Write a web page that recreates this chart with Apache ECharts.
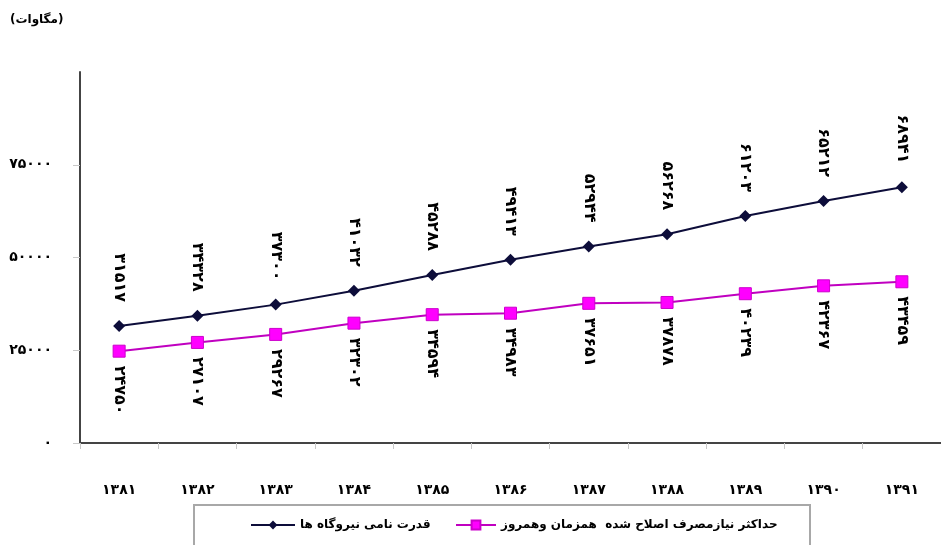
<!DOCTYPE html>
<html>
<head>
<meta charset="utf-8">
<script src="https://cdn.jsdelivr.net/npm/echarts@6/dist/echarts.min.js"></script>
<style>
  html, body { margin: 0; padding: 0; background: #fff; }
  #chart { width: 941px; height: 545px; }
</style>
</head>
<body>
<div id="chart"></div>
<script>
// Years (solar hijri calendar)
const years = ['۱۳۸۱', '۱۳۸۲', '۱۳۸۳', '۱۳۸۴', '۱۳۸۵', '۱۳۸۶', '۱۳۸۷', '۱۳۸۸', '۱۳۸۹', '۱۳۹۰', '۱۳۹۱'];

// Nominal capacity of power plants (MW)
const capacityName = 'قدرت نامی نیروگاه ها';
const capacity = [31517, 34328, 37300, 41032, 45288, 49413, 52944, 56268, 61203, 65212, 68941];

// Corrected simultaneous peak demand (MW)
const demandName = 'حداکثر نیازمصرف اصلاح شده  همزمان وهمروز';
const demand = [24750, 27107, 29267, 32302, 34594, 34983, 37651, 37878, 40239, 42367, 43459];

// Value axis ticks
const yTicks = [0, 25000, 50000, 75000, 100000];

const unitTitle = '(مگاوات)';

// Persian digits
const fa = v => String(v).replace(/\d/g, d => '۰۱۲۳۴۵۶۷۸۹'[d]);

const FONT = 'DejaVu Sans';

const legendText = { fontFamily: FONT, fontWeight: 'bold', fontSize: 12, color: '#000' };

const chart = echarts.init(document.getElementById('chart'), null, { renderer: 'canvas' });

chart.setOption({
  animation: false,
  backgroundColor: '#ffffff',
  textStyle: { fontFamily: FONT },
  grid: { left: 80, right: -10, top: 72, bottom: 102, containLabel: false },
  graphic: [
    {
      type: 'text', left: 10, top: 14,
      style: { text: unitTitle, font: 'bold 12px "DejaVu Sans"', fill: '#000' }
    },
    {
      type: 'rect', shape: { x: 194, y: 505, width: 616, height: 60 },
      style: { fill: 'none', stroke: '#a8a8a8', lineWidth: 2 }, z: 0
    }
  ],
  legend: [
    {
      left: 245, top: 514, itemWidth: 44, itemHeight: 11,
      textStyle: legendText, data: [capacityName]
    },
    {
      left: 450, top: 514, itemWidth: 40, itemHeight: 11,
      textStyle: legendText, data: [demandName]
    }
  ],
  xAxis: {
    type: 'category',
    data: years,
    boundaryGap: true,
    axisLine: { lineStyle: { color: '#444', width: 2 } },
    axisTick: { show: true, length: 6, lineStyle: { color: '#c8c8c8', width: 1 } },
    axisLabel: { margin: 40, color: '#000', fontFamily: FONT, fontWeight: 'bold', fontSize: 14 },
    splitLine: { show: false }
  },
  yAxis: {
    type: 'value',
    min: yTicks[0], max: yTicks[yTicks.length - 1], interval: yTicks[1] - yTicks[0],
    axisLine: { show: true, lineStyle: { color: '#444', width: 2 } },
    axisTick: { show: true, length: 7, lineStyle: { color: '#c8c8c8', width: 1 } },
    axisLabel: {
      margin: 28, color: '#000', fontFamily: FONT, fontWeight: 'bold', fontSize: 14,
      showMaxLabel: false,
      formatter: v => fa(v)
    },
    splitLine: { show: false }
  },
  series: [
    {
      name: capacityName,
      type: 'line',
      data: capacity,
      symbol: 'diamond',
      symbolSize: 12,
      itemStyle: { color: '#0d0d3a' },
      lineStyle: { color: '#0d0d3a', width: 2 },
      label: {
        show: true, position: 'top', distance: 18, rotate: -90,
        align: 'right', verticalAlign: 'middle',
        fontFamily: FONT, fontWeight: 'bold', fontSize: 16, color: '#000',
        formatter: p => fa(p.value)
      },
      z: 3
    },
    {
      name: demandName,
      type: 'line',
      data: demand,
      symbol: 'rect',
      symbolSize: 12,
      itemStyle: { color: '#ff00ff', borderColor: '#cc00cc', borderWidth: 1 },
      lineStyle: { color: '#c000c0', width: 2 },
      label: {
        show: true, position: 'bottom', distance: 8, rotate: -90,
        align: 'left', verticalAlign: 'middle',
        fontFamily: FONT, fontWeight: 'bold', fontSize: 16, color: '#000',
        formatter: p => fa(p.value)
      },
      z: 2
    }
  ]
});
</script>
</body>
</html>
